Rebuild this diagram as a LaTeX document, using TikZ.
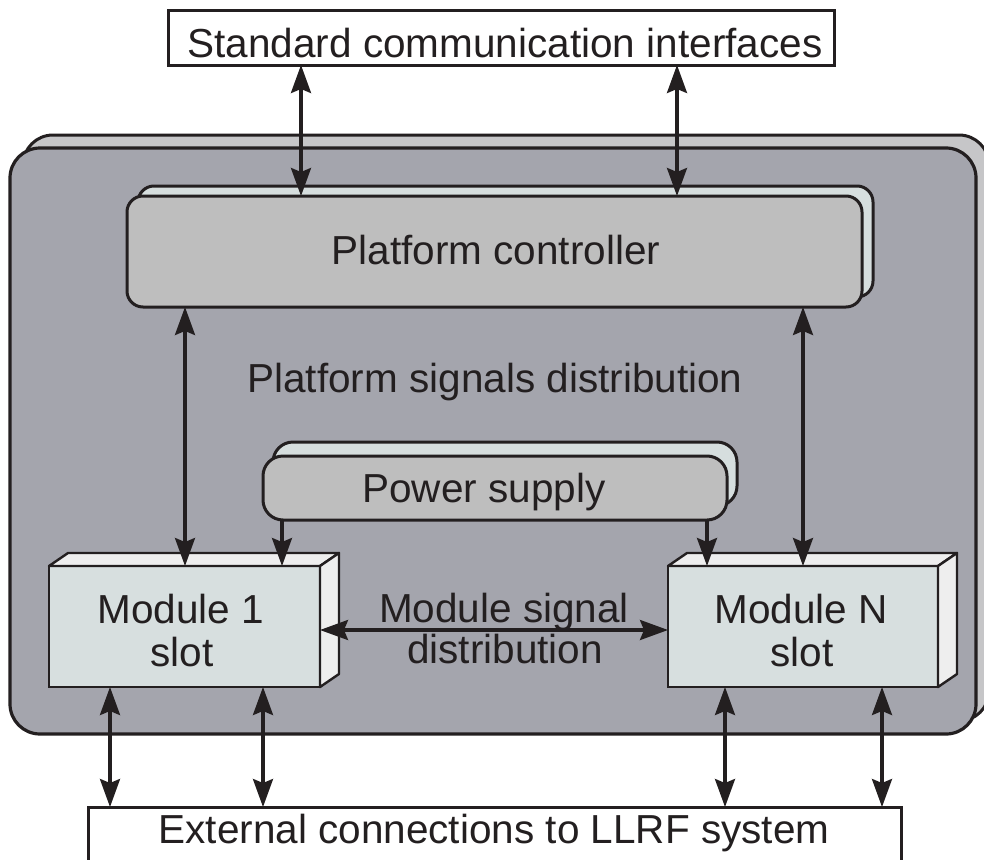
\documentclass[tikz,border=0pt]{standalone}
\usepackage{fontspec}
\setmainfont{Liberation Sans}
\usetikzlibrary{arrows.meta,calc}
\definecolor{ol}{RGB}{35,31,32}
\definecolor{chfront}{RGB}{164,165,173}
\definecolor{chside}{RGB}{198,198,200}
\definecolor{pcfront}{RGB}{190,190,190}
\definecolor{pcside}{RGB}{214,222,222}
\definecolor{mfront}{RGB}{215,223,223}
\definecolor{mside}{RGB}{238,238,238}
\begin{document}
\begin{tikzpicture}[x=1pt,y=-1pt,
  txt/.style={font=\fontsize{40.5}{43}\selectfont, text=ol, inner sep=0pt, anchor=base},
  frontbox/.style={draw=ol, line width=3pt, inner sep=0pt, outer sep=0pt},
  backbox/.style={draw=ol, line width=3pt, line join=round},
  modface/.style={draw=ol, line width=2.4pt, fill=mside, line join=round},
  conn/.style={draw=ol, line width=3.2pt, {Stealth[length=28pt,width=20pt,inset=4pt]}-{Stealth[length=28pt,width=20pt,inset=4pt]}},
  oneway/.style={draw=ol, line width=3.2pt, -{Stealth[length=28pt,width=20pt,inset=4pt]}},
]
\useasboundingbox (0,0) rectangle (984,859);
\clip (0,0) rectangle (984,859);
\fill[white] (0,0) rectangle (984,859);

% x positions of connectors
\coordinate (a1) at (301,0);
\coordinate (a2) at (677,0);
\coordinate (b1) at (185,0);
\coordinate (b2) at (803,0);
\coordinate (p1) at (282,0);
\coordinate (p2) at (707,0);
\coordinate (e1) at (110,0);
\coordinate (e2) at (263,0);
\coordinate (e3) at (725,0);
\coordinate (e4) at (882,0);
\coordinate (ysig) at (0,630);

% chassis
\draw[backbox, fill=chside, rounded corners=30pt] (23,135) rectangle (989,721);
\node[frontbox, line width=3.2pt, fill=chfront, rounded corners=30pt,
      minimum width=966pt, minimum height=586pt] (ch) at (493,441) {};

% platform controller
\draw[backbox, fill=pcside, rounded corners=16pt] (138,186) rectangle (873,297);
\node[frontbox, fill=pcfront, rounded corners=16pt,
      minimum width=735pt, minimum height=111pt] (pc) at (494.5,251.5) {};

% power supply
\draw[backbox, fill=pcside, rounded corners=20pt] (273,442) rectangle (737,506);
\node[frontbox, fill=pcfront, rounded corners=20pt,
      minimum width=464pt, minimum height=64pt] (ps) at (495,488) {};

% module 1
\node[frontbox, line width=2.4pt, fill=mfront,
      minimum width=271pt, minimum height=121pt] (m1) at (184.5,626.5) {};
\draw[modface] (m1.north west) -- ++(19,-13) -- ($(m1.north east)+(19,-13)$) -- (m1.north east) -- cycle;
\draw[modface] (m1.north east) -- ++(19,-13) -- ++(0,121) -- (m1.south east) -- cycle;

% module N
\node[frontbox, line width=2.4pt, fill=mfront,
      minimum width=270pt, minimum height=121pt] (mN) at (803,626.5) {};
\draw[modface] (mN.north west) -- ++(19,-13) -- ($(mN.north east)+(19,-13)$) -- (mN.north east) -- cycle;
\draw[modface] (mN.north east) -- ++(19,-13) -- ++(0,121) -- (mN.south east) -- cycle;

% outer boxes
\node[frontbox, fill=white, minimum width=666pt, minimum height=54pt] (sci) at (501,38) {};
\node[frontbox, fill=white, minimum width=813pt, minimum height=63pt] (ext) at (494.5,838.5) {};

% texts
\node[txt] (tsci) at (505,58) {Standard communication interfaces};
\node[txt] (tpc) at (496,264) {Platform controller};
\node[txt] (tpsd) at (495,392) {Platform signals distribution};
\node[txt] (tps) at (484,502) {Power supply};
\node[txt] (tms1) at (504,622) {Module signal};
\node[txt] (tms2) at (505,663) {distribution};
\node[txt] (tm1a) at (181,623) {Module 1};
\node[txt] (tm1b) at (182,666) {slot};
\node[txt] (tmNa) at (801,623) {Module N};
\node[txt] (tmNb) at (802,666) {slot};
\node[txt] (text) at (494,843) {External connections to LLRF system};

% connectors
\draw[conn] (sci.south -| a1) -- (pc.north -| a1);
\draw[conn] (sci.south -| a2) -- (pc.north -| a2);
\draw[conn] (pc.south -| b1) -- (m1.north -| b1);
\draw[conn] (pc.south -| b2) -- (mN.north -| b2);
\draw[oneway] (ps.south -| p1) -- (m1.north -| p1);
\draw[oneway] (ps.south -| p2) -- (mN.north -| p2);
\draw[conn] (m1.east |- ysig) -- (mN.west |- ysig);
\draw[conn] (m1.south -| e1) -- (ext.north -| e1);
\draw[conn] (m1.south -| e2) -- (ext.north -| e2);
\draw[conn] (mN.south -| e3) -- (ext.north -| e3);
\draw[conn] (mN.south -| e4) -- (ext.north -| e4);
\end{tikzpicture}
\end{document}
